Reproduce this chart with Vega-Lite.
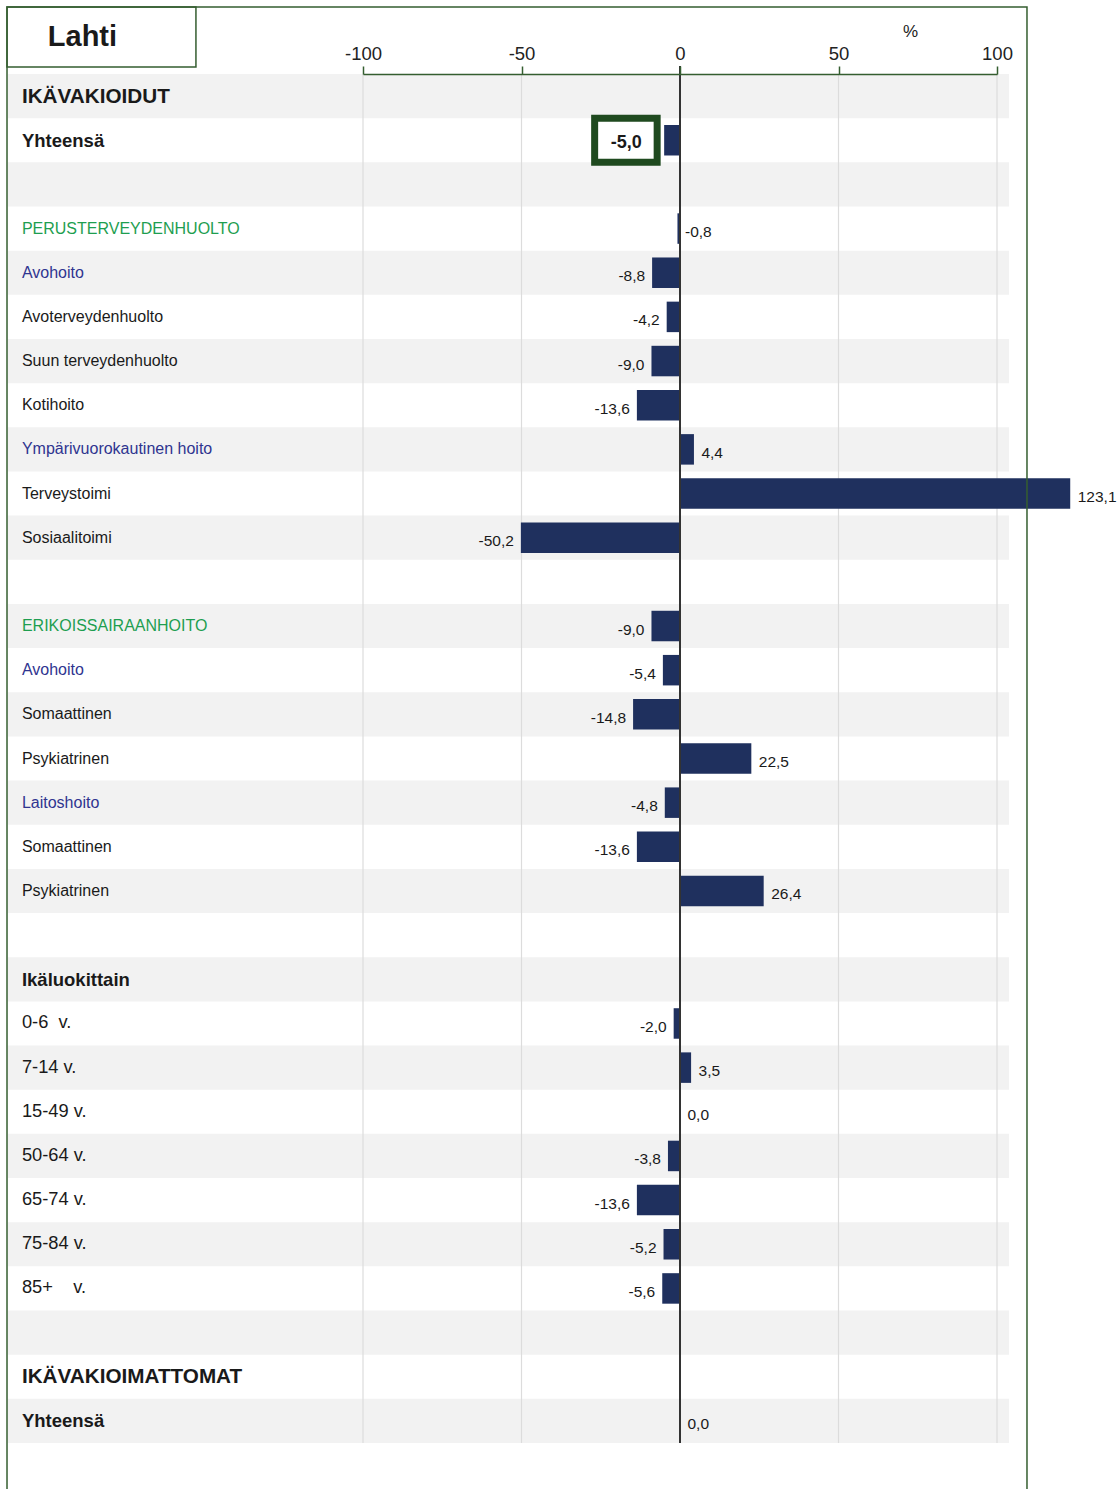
{
  "$schema": "https://vega.github.io/schema/vega-lite/v6.json",
  "width": 1020,
  "height": 1369,
  "autosize": {"type": "none"},
  "padding": {"left": 7, "top": 74, "right": 91, "bottom": 46},
  "background": "white",
  "config": {
    "font": "Liberation Sans",
    "view": {"stroke": null},
    "locale": {"number": {"decimal": ",", "thousands": " ", "grouping": [3], "currency": ["", " €"], "minus": "-"}}
  },
  "datasets": {
    "rows": [
      {"row": 1, "label": "IKÄVAKIOIDUT", "kind": "head"},
      {"row": 2, "label": "Yhteensä", "kind": "total", "value": -5.0, "boxed": true},
      {"row": 3, "label": "", "kind": "blank"},
      {"row": 4, "label": "PERUSTERVEYDENHUOLTO", "kind": "section", "value": -0.8},
      {"row": 5, "label": "Avohoito", "kind": "sub", "value": -8.8},
      {"row": 6, "label": "Avoterveydenhuolto", "kind": "item", "value": -4.2},
      {"row": 7, "label": "Suun terveydenhuolto", "kind": "item", "value": -9.0},
      {"row": 8, "label": "Kotihoito", "kind": "item", "value": -13.6},
      {"row": 9, "label": "Ympärivuorokautinen hoito", "kind": "sub", "value": 4.4},
      {"row": 10, "label": "Terveystoimi", "kind": "item", "value": 123.1},
      {"row": 11, "label": "Sosiaalitoimi", "kind": "item", "value": -50.2},
      {"row": 12, "label": "", "kind": "blank"},
      {"row": 13, "label": "ERIKOISSAIRAANHOITO", "kind": "section", "value": -9.0},
      {"row": 14, "label": "Avohoito", "kind": "sub", "value": -5.4},
      {"row": 15, "label": "Somaattinen", "kind": "item", "value": -14.8},
      {"row": 16, "label": "Psykiatrinen", "kind": "item", "value": 22.5},
      {"row": 17, "label": "Laitoshoito", "kind": "sub", "value": -4.8},
      {"row": 18, "label": "Somaattinen", "kind": "item", "value": -13.6},
      {"row": 19, "label": "Psykiatrinen", "kind": "item", "value": 26.4},
      {"row": 20, "label": "", "kind": "blank"},
      {"row": 21, "label": "Ikäluokittain", "kind": "total"},
      {"row": 22, "label": "0-6\u00a0\u00a0v.", "kind": "age", "value": -2.0},
      {"row": 23, "label": "7-14 v.", "kind": "age", "value": 3.5},
      {"row": 24, "label": "15-49 v.", "kind": "age", "value": 0.0},
      {"row": 25, "label": "50-64 v.", "kind": "age", "value": -3.8},
      {"row": 26, "label": "65-74 v.", "kind": "age", "value": -13.6},
      {"row": 27, "label": "75-84 v.", "kind": "age", "value": -5.2},
      {"row": 28, "label": "85+\u00a0\u00a0\u00a0\u00a0v.", "kind": "age", "value": -5.6},
      {"row": 29, "label": "", "kind": "blank"},
      {"row": 30, "label": "IKÄVAKIOIMATTOMAT", "kind": "head"},
      {"row": 31, "label": "Yhteensä", "kind": "total", "value": 0.0}
    ],
    "ticks": [{"t": -100}, {"t": -50}, {"t": 50}, {"t": 100}],
    "place": [{"name": "Lahti"}]
  },
  "layer": [
    {
      "data": {"name": "rows"},
      "transform": [{"filter": "datum.row % 2 == 1"}],
      "mark": {"type": "bar", "orient": "horizontal", "height": 44.2, "color": "#f2f2f2"},
      "encoding": {
        "x": {"datum": -212, "type": "quantitative",
              "scale": {"domain": [-100, 100], "range": [356, 990], "nice": false, "zero": false, "padding": 0},
              "axis": {
                "orient": "top", "values": [-100, -50, 0, 50, 100], "grid": false, "zindex": 2,
                "domainColor": "#355e30", "domainWidth": 1.5, "tickColor": "#355e30", "tickWidth": 1.5, "tickSize": 8,
                "labelFontSize": 18.5, "labelColor": "#222222", "labelPadding": 3, "labelFlush": false, "labelOverlap": false,
                "title": "%", "titleFontSize": 17, "titleFontWeight": "normal", "titleColor": "#222222",
                "titleX": 903, "titleY": -43, "titleAlign": "center", "titleBaseline": "middle", "titleAngle": 0
              }},
        "x2": {"datum": 103.8},
        "y": {"field": "row", "type": "quantitative",
              "scale": {"domain": [0.5, 31.5], "range": [0, 1369], "nice": false, "zero": false, "padding": 0},
              "axis": null}
      }
    },
    {
      "data": {"name": "ticks"},
      "mark": {"type": "rule", "color": "#dcdcdc", "strokeWidth": 1.2},
      "encoding": {
        "x": {"field": "t", "type": "quantitative"},
        "y": {"datum": 0.5, "type": "quantitative", "axis": null},
        "y2": {"datum": 31.5}
      }
    },
    {
      "data": {"name": "rows"},
      "transform": [{"filter": "isValid(datum.value)"}],
      "mark": {"type": "bar", "orient": "horizontal", "height": 30.5, "color": "#1f305e"},
      "encoding": {
        "x": {"field": "value", "type": "quantitative"},
        "x2": {"datum": 0},
        "y": {"field": "row", "type": "quantitative", "axis": null}
      }
    },
    {
      "data": {"name": "place"},
      "mark": {"type": "rule", "color": "#333333", "strokeWidth": 2},
      "encoding": {
        "x": {"datum": 0, "type": "quantitative"},
        "y": {"datum": 0.32, "type": "quantitative", "axis": null},
        "y2": {"datum": 31.5}
      }
    },
    {
      "data": {"name": "rows"},
      "transform": [{"filter": "isValid(datum.value) && datum.value < -1 && !datum.boxed"}],
      "mark": {"type": "text", "align": "right", "baseline": "middle", "dx": -7, "dy": 3.5, "fontSize": 15.5, "color": "#1a1a1a"},
      "encoding": {
        "x": {"field": "value", "type": "quantitative"},
        "y": {"field": "row", "type": "quantitative", "axis": null},
        "text": {"field": "value", "type": "quantitative", "format": ".1f"}
      }
    },
    {
      "data": {"name": "rows"},
      "transform": [{"filter": "isValid(datum.value) && datum.value >= -1 && !datum.boxed"}],
      "mark": {"type": "text", "align": "left", "baseline": "middle", "dx": 7.5, "dy": 3.5, "fontSize": 15.5, "color": "#1a1a1a"},
      "encoding": {
        "x": {"field": "value", "type": "quantitative"},
        "y": {"field": "row", "type": "quantitative", "axis": null},
        "text": {"field": "value", "type": "quantitative", "format": ".1f"}
      }
    },
    {
      "data": {"name": "rows"},
      "transform": [{"filter": "datum.boxed"}],
      "mark": {"type": "bar", "orient": "horizontal", "height": 44, "fill": "white", "stroke": "#1f4a1f", "strokeWidth": 7, "xOffset": -7, "x2Offset": -69.5},
      "encoding": {
        "x": {"field": "value", "type": "quantitative"},
        "x2": {"field": "value"},
        "y": {"field": "row", "type": "quantitative", "axis": null}
      }
    },
    {
      "data": {"name": "rows"},
      "transform": [{"filter": "datum.boxed"}],
      "mark": {"type": "text", "align": "center", "baseline": "middle", "dx": -38, "dy": 3, "fontSize": 18, "fontWeight": "bold", "color": "#1a1a1a"},
      "encoding": {
        "x": {"field": "value", "type": "quantitative"},
        "y": {"field": "row", "type": "quantitative", "axis": null},
        "text": {"field": "value", "type": "quantitative", "format": ".1f"}
      }
    },
    {
      "data": {"name": "rows"},
      "transform": [{"filter": "datum.kind == 'head'"}],
      "mark": {"type": "text", "align": "left", "baseline": "middle", "dy": 0.5, "fontSize": 20.7, "fontWeight": "bold", "color": "#1a1a1a"},
      "encoding": {
        "x": {"datum": -207.6, "type": "quantitative"},
        "y": {"field": "row", "type": "quantitative", "axis": null},
        "text": {"field": "label"}
      }
    },
    {
      "data": {"name": "rows"},
      "transform": [{"filter": "datum.kind == 'total'"}],
      "mark": {"type": "text", "align": "left", "baseline": "middle", "dy": 0.5, "fontSize": 18.5, "fontWeight": "bold", "color": "#1a1a1a"},
      "encoding": {
        "x": {"datum": -207.6, "type": "quantitative"},
        "y": {"field": "row", "type": "quantitative", "axis": null},
        "text": {"field": "label"}
      }
    },
    {
      "data": {"name": "rows"},
      "transform": [{"filter": "datum.kind == 'section'"}],
      "mark": {"type": "text", "align": "left", "baseline": "middle", "fontSize": 16, "color": "#1e9e50"},
      "encoding": {
        "x": {"datum": -207.6, "type": "quantitative"},
        "y": {"field": "row", "type": "quantitative", "axis": null},
        "text": {"field": "label"}
      }
    },
    {
      "data": {"name": "rows"},
      "transform": [{"filter": "datum.kind == 'sub'"}],
      "mark": {"type": "text", "align": "left", "baseline": "middle", "fontSize": 16, "color": "#2f3590"},
      "encoding": {
        "x": {"datum": -207.6, "type": "quantitative"},
        "y": {"field": "row", "type": "quantitative", "axis": null},
        "text": {"field": "label"}
      }
    },
    {
      "data": {"name": "rows"},
      "transform": [{"filter": "datum.kind == 'item'"}],
      "mark": {"type": "text", "align": "left", "baseline": "middle", "fontSize": 16, "color": "#1a1a1a"},
      "encoding": {
        "x": {"datum": -207.6, "type": "quantitative"},
        "y": {"field": "row", "type": "quantitative", "axis": null},
        "text": {"field": "label"}
      }
    },
    {
      "data": {"name": "rows"},
      "transform": [{"filter": "datum.kind == 'age'"}],
      "mark": {"type": "text", "align": "left", "baseline": "middle", "fontSize": 18.3, "color": "#1a1a1a"},
      "encoding": {
        "x": {"datum": -207.6, "type": "quantitative"},
        "y": {"field": "row", "type": "quantitative", "axis": null},
        "text": {"field": "label"}
      }
    },
    {
      "data": {"name": "place"},
      "mark": {"type": "rect", "fill": "white", "fillOpacity": 0, "stroke": "#355e30", "strokeWidth": 1.5},
      "encoding": {
        "x": {"datum": -212.3, "type": "quantitative"},
        "x2": {"datum": 109.46},
        "y": {"datum": -1.017, "type": "quantitative", "axis": null},
        "y2": {"datum": 32.7}
      }
    },
    {
      "data": {"name": "place"},
      "mark": {"type": "rect", "fill": "white", "fillOpacity": 0, "stroke": "#355e30", "strokeWidth": 1.5},
      "encoding": {
        "x": {"datum": -212.3, "type": "quantitative"},
        "x2": {"datum": -152.7},
        "y": {"datum": -1.017, "type": "quantitative", "axis": null},
        "y2": {"datum": 0.3415}
      }
    },
    {
      "data": {"name": "place"},
      "mark": {"type": "text", "align": "center", "baseline": "middle", "fontSize": 29, "fontWeight": "bold", "color": "#1a1a1a"},
      "encoding": {
        "x": {"datum": -188.5, "type": "quantitative"},
        "y": {"datum": -0.34, "type": "quantitative", "axis": null},
        "text": {"field": "name"}
      }
    }
  ]
}
